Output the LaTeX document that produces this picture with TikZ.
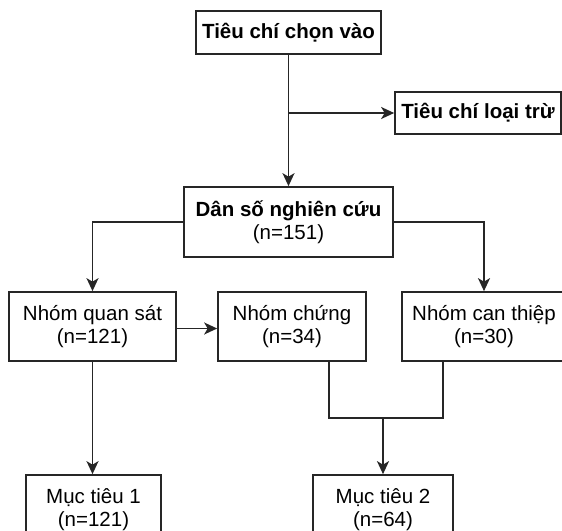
\documentclass[tikz,border=0pt]{standalone}
\usepackage{fontspec}
\setmainfont{Liberation Sans}
\usetikzlibrary{arrows.meta}
\begin{document}
\begin{tikzpicture}[x=1pt,y=-1pt,
  box/.style={draw=black!85, line width=1.7pt, fill=white, align=center, inner sep=0pt,
    font=\fontsize{20.5}{23.5}\selectfont},
  conn/.style={draw=black!85, line width=1.7pt},
  arr/.style={conn, -{Stealth[length=13pt,width=12pt,inset=3.5pt]}}]
\useasboundingbox (0,0) rectangle (562,530);
\clip (0,0) rectangle (562,530);
\fill[white] (0,0) rectangle (562,530);
% nodes
\node[box, minimum width=185pt, minimum height=43pt] (top) at (288.5,32.5) {\textbf{Tiêu chí chọn vào}};
\node[box, minimum width=166pt, minimum height=42pt] (excl) at (478,113) {\textbf{Tiêu chí loại trừ}};
\node[box, minimum width=209pt, minimum height=70pt] (pop) at (288.5,222) {\textbf{Dân số nghiên cứu}\\(n=151)};
\node[box, minimum width=167pt, minimum height=69pt] (qs) at (92.5,326.5) {Nhóm quan sát\\(n=121)};
\node[box, minimum width=148pt, minimum height=69pt] (ch) at (292,326.5) {Nhóm chứng\\(n=34)};
\node[box, minimum width=164pt, minimum height=69pt] (ct) at (484,326.5) {Nhóm can thiệp\\(n=30)};
\node[box, minimum width=135pt, minimum height=69pt] (m1) at (93.5,509.5) {Mục tiêu 1\\(n=121)};
\node[box, minimum width=140pt, minimum height=69pt] (m2) at (383,509.5) {Mục tiêu 2\\(n=64)};
% helper coordinates
\coordinate (br) at (288.5,113);
\coordinate (chb) at (329,361);
\coordinate (ctb) at (443,361);
\coordinate (chc) at (329,418);
\coordinate (ctc) at (443,418);
\coordinate (mid) at (383,418);
% connectors
\draw[arr] (top.south) -- (pop.north);
\draw[arr] (br) -- (excl.west);
\draw[arr] (pop.west) -| (qs.north);
\draw[arr] (pop.east) -| (ct.north);
\draw[arr] ([yshift=-2pt]qs.east) -- ([yshift=-2pt]ch.west);
\draw[arr] (qs.south) -- (qs.south |- m1.north);
\draw[conn] (chb) -- (chc) -- (ctc) -- (ctb);
\draw[arr] (mid) -- (m2.north);
\end{tikzpicture}
\end{document}
